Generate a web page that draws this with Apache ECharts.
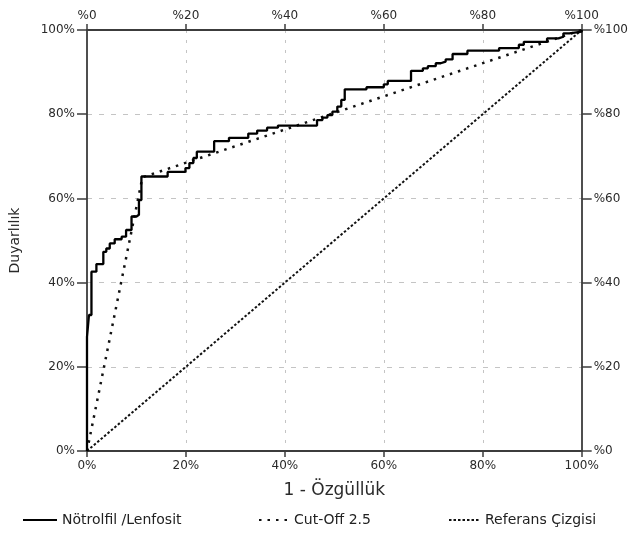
<!doctype html>
<html lang="tr">
  <head>
    <meta charset="UTF-8" />
    <title>ROC eğrisi</title>
    <script src="https://cdn.jsdelivr.net/npm/echarts@6/dist/echarts.min.js"></script>
    <style type="text/css">
      * {
        margin: 0;
        padding: 0;
      }
      html,
      body,
      #chart {
        width: 631px;
        height: 536px;
        overflow: hidden;
        background: #fff;
      }
    </style>
  </head>
  <body>
    <div id="chart"></div>
  </body>
  <script>
    // ROC step corners (1 - özgüllük %, duyarlılık %), drawn with step: 'start'
    const rocFpr = [
      0, 0.4, 0.9, 1.9, 3.3, 3.9, 4.6, 5.6, 7.0, 7.9, 9.0, 10.0, 10.5, 11.0,
      16.3, 19.9, 20.7, 21.5, 22.2, 25.7, 28.7, 32.6, 34.4, 36.4, 38.6, 46.5,
      47.6, 48.6, 49.6, 50.6, 51.4, 52.1, 56.5, 60.0, 60.8, 65.5, 67.9, 68.9,
      70.5, 71.5, 72.5, 73.9, 76.9, 83.3, 87.3, 88.3, 93.0, 95.3, 96.3, 97.5,
      100, 100,
    ];
    const rocTpr = [
      0, 27.1, 32.3, 42.6, 44.4, 47.3, 48.1, 49.3, 50.3, 50.9, 52.5, 55.7, 56.1,
      59.6, 65.2, 66.3, 67.2, 68.4, 69.6, 71.1, 73.6, 74.4, 75.4, 76.1, 76.8,
      77.3, 78.6, 79.2, 79.8, 80.6, 81.8, 83.4, 85.9, 86.4, 87.1, 87.9, 90.3,
      90.9, 91.4, 92.1, 92.5, 93.0, 94.3, 95.1, 95.7, 96.5, 97.2, 98.0, 98.4,
      99.2, 99.6, 100,
    ];
    const cutFpr = [0, 11.2, 100];
    const cutTpr = [0, 65, 100];
    const refFpr = [0, 100];
    const refTpr = [0, 100];
    const seriesNames = ['Nötrolfil /Lenfosit', 'Cut-Off 2.5', 'Referans Çizgisi'];

    const zip = (xs, ys) => xs.map((x, i) => [x, ys[i]]);
    const font = 'DejaVu Sans';
    const axisLine = { show: true, onZero: false, lineStyle: { color: '#3c3c3c', width: 1.8 } };
    const tick = (len) => ({ show: true, length: len, lineStyle: { color: '#3c3c3c', width: 1.5 } });
    const label = (fmt, margin) => ({
      formatter: fmt,
      margin: margin,
      color: '#2a2a2a',
      fontFamily: font,
      fontSize: 12,
    });
    const legendAt = (name, left, width) => ({
      data: [name],
      left: left,
      top: 508,
      itemWidth: width,
      itemHeight: 14,
      itemStyle: { opacity: 0 },
      textStyle: { fontFamily: font, fontSize: 14, color: '#222' },
    });

    const chart = echarts.init(document.getElementById('chart'), null, { renderer: 'canvas' });
    chart.setOption({
      animation: false,
      backgroundColor: '#fff',
      grid: { left: 87, right: 46, top: 30, bottom: 85 },
      xAxis: [
        {
          type: 'value',
          position: 'bottom',
          min: 0,
          max: 100,
          interval: 20,
          name: '1 - Özgüllük',
          nameLocation: 'middle',
          nameGap: 31,
          nameTextStyle: { fontFamily: font, fontSize: 17, color: '#2a2a2a' },
          axisLine: axisLine,
          axisTick: tick(6),
          axisLabel: label('{value}%', 9),
          splitLine: {
            show: true,
            showMinLine: false,
            showMaxLine: false,
            lineStyle: { color: '#c4c4c4', type: [3, 7], width: 1 },
          },
        },
        {
          type: 'value',
          position: 'top',
          min: 0,
          max: 100,
          interval: 20,
          axisLine: axisLine,
          axisTick: tick(6),
          axisLabel: label('%{value}', 8),
          splitLine: { show: false },
        },
      ],
      yAxis: [
        {
          type: 'value',
          position: 'left',
          min: 0,
          max: 100,
          interval: 20,
          name: 'Duyarlılık',
          nameLocation: 'middle',
          nameGap: 65,
          nameTextStyle: { fontFamily: font, fontSize: 14, color: '#2a2a2a' },
          axisLine: axisLine,
          axisTick: tick(10),
          axisLabel: label('{value}%', 12),
          splitLine: {
            show: true,
            showMinLine: false,
            showMaxLine: false,
            lineStyle: { color: '#c4c4c4', type: [5, 7], width: 1 },
          },
        },
        {
          type: 'value',
          position: 'right',
          min: 0,
          max: 100,
          interval: 20,
          axisLine: axisLine,
          axisTick: tick(10),
          axisLabel: label('%{value}', 12),
          splitLine: { show: false },
        },
      ],
      legend: [
        legendAt(seriesNames[0], 17, 34),
        legendAt(seriesNames[1], 253, 30),
        legendAt(seriesNames[2], 443, 31),
      ],
      series: [
        {
          name: seriesNames[2],
          type: 'line',
          data: zip(refFpr, refTpr),
          symbol: 'none',
          clip: false,
          color: '#111',
          lineStyle: { color: '#111', width: 2, type: [2.5, 2] },
        },
        {
          name: seriesNames[1],
          type: 'line',
          data: zip(cutFpr, cutTpr),
          symbol: 'none',
          clip: false,
          color: '#111',
          lineStyle: { color: '#111', width: 2.5, type: [2.5, 6] },
        },
        {
          name: seriesNames[0],
          type: 'line',
          step: 'start',
          data: zip(rocFpr, rocTpr),
          symbol: 'none',
          clip: false,
          color: '#000',
          lineStyle: { color: '#000', width: 2.3 },
        },
      ],
    });
  </script>
</html>
